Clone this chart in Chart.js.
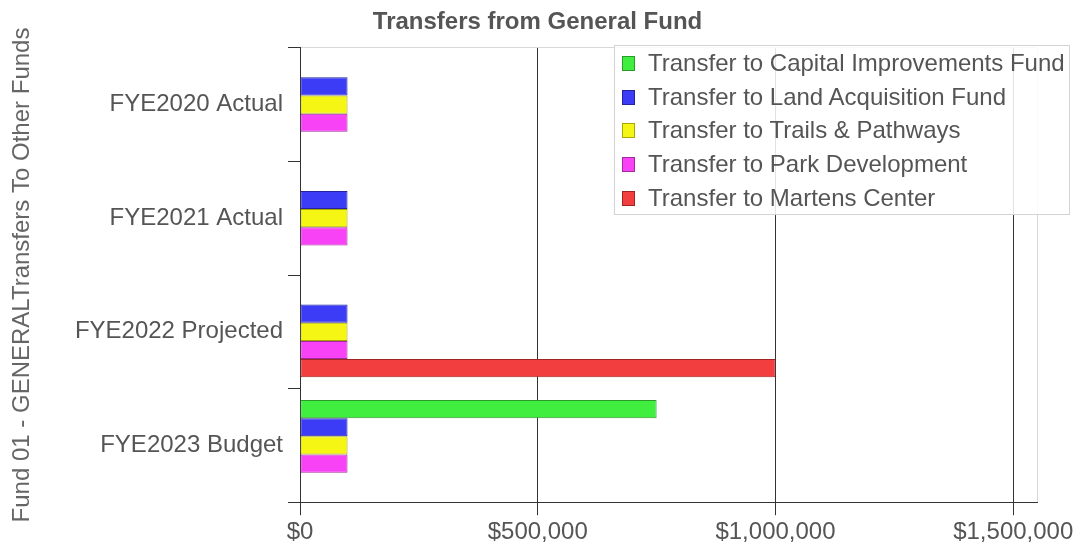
<!DOCTYPE html>
<html>
<head>
<meta charset="utf-8">
<title>Transfers from General Fund</title>
<script src="https://cdn.jsdelivr.net/npm/chart.js@4.4.1/dist/chart.umd.min.js"></script>
<style>
  body { margin: 0; background: #fff; }
  #wrap { position: relative; width: 1075px; height: 550px; }
  #legende {
    position: absolute; left: 614px; top: 45px; width: 456px; height: 170px;
    background: rgba(255,255,255,0.86); border: 1px solid #d4d4d4;
    font-family: "Liberation Sans", Arial, sans-serif; font-size: 24px; color: #555;
    box-sizing: border-box; padding: 0 0 0 7px;
  }
  #legende div { height: 33.7px; line-height: 33.7px; white-space: nowrap; }
  #legende span.doboz {
    display: inline-block; width: 11px; height: 13px; margin-right: 13px;
    vertical-align: 0px; border: 1px solid;
  }
</style>
</head>
<body>
<div id="wrap">
  <canvas id="atutalasok" width="1075" height="550"></canvas>
  <div id="legende"></div>
</div>
<script>
const evek = ["FYE2020 Actual", "FYE2021 Actual", "FYE2022 Projected", "FYE2023 Budget"];

const capitalImprovements = [0, 0, 0, 750000];
const landAcquisition = [100000, 100000, 100000, 100000];
const trailsPathways = [100000, 100000, 100000, 100000];
const parkDevelopment = [100000, 100000, 100000, 100000];
const martensCenter = [0, 0, 1000000, 0];

const xTicks = [0, 500000, 1000000, 1500000];
const xMax = 1550000;

const sorozatok = [
  { label: "Transfer to Capital Improvements Fund", data: capitalImprovements, szin: "#40ee40", keret: "#2a9a2a" },
  { label: "Transfer to Land Acquisition Fund", data: landAcquisition, szin: "#3c3cf6", keret: "#23239a" },
  { label: "Transfer to Trails & Pathways", data: trailsPathways, szin: "#f6f614", keret: "#a8a800" },
  { label: "Transfer to Park Development", data: parkDevelopment, szin: "#f842f6", keret: "#a02a9e" },
  { label: "Transfer to Martens Center", data: martensCenter, szin: "#f23e3e", keret: "#a02424" }
];

Chart.defaults.font.family = '"Liberation Sans", Arial, sans-serif';

const penz = v => "$" + Number(v).toLocaleString("en-US");

new Chart(document.getElementById("atutalasok"), {
  type: "bar",
  data: {
    labels: evek,
    datasets: sorozatok.map(s => ({
      label: s.label,
      data: s.data,
      backgroundColor: s.szin,
      borderColor: s.keret,
      borderWidth: 1,
      borderSkipped: false,
      categoryPercentage: 0.8,
      barPercentage: 1.0
    }))
  },
  options: {
    indexAxis: "y",
    responsive: false,
    animation: false,
    devicePixelRatio: 1,
    layout: { padding: { left: 0, right: 0, top: 0, bottom: 0 } },
    plugins: {
      legend: { display: false },
      tooltip: { enabled: false },
      title: {
        display: true,
        text: "Transfers from General Fund",
        color: "#555",
        font: { size: 24, weight: "bold" },
        padding: { top: 8, bottom: 11 }
      }
    },
    scales: {
      x: {
        min: 0,
        max: xMax,
        afterBuildTicks: axis => {
          axis.ticks = xTicks.concat([xMax]).map(v => ({ value: v }));
        },
        border: { display: true, color: "#333", width: 1 },
        grid: {
          color: c => c.tick && c.tick.value === xMax ? "#d8d8d8" : "#333",
          tickColor: c => c.tick && c.tick.value === xMax ? "rgba(0,0,0,0)" : "#333",
          tickLength: 13
        },
        ticks: {
          color: "#555",
          font: { size: 24 },
          padding: 3,
          maxRotation: 0,
          callback: v => (v === xMax ? "" : penz(v))
        }
      },
      y: {
        border: { display: true, color: "#333", width: 1 },
        grid: {
          color: c => (c.index === 0 ? "#d8d8d8" : "rgba(0,0,0,0)"),
          tickColor: "#333",
          tickLength: 12
        },
        ticks: { color: "#555", font: { size: 24 }, padding: 5 },
        title: {
          display: true,
          text: "Fund 01 - GENERALTransfers To Other Funds",
          color: "#666",
          font: { size: 24 },
          padding: { top: 8, bottom: 33 }
        },
        afterFit: s => { s.width = 300; }
      },
      // ures jobb oldali sav, hogy a cim a teljes szelessegre kozepre keruljon
      jobb: {
        type: "category",
        position: "right",
        display: true,
        grid: { display: false },
        border: { display: false },
        ticks: { display: false },
        afterFit: s => { s.width = 38; }
      }
    }
  }
});

// jelmagyarazat a diagram belsejeben
const legende = document.getElementById("legende");
sorozatok.forEach(s => {
  const sor = document.createElement("div");
  const doboz = document.createElement("span");
  doboz.className = "doboz";
  doboz.style.background = s.szin;
  doboz.style.borderColor = s.keret;
  sor.appendChild(doboz);
  sor.appendChild(document.createTextNode(s.label));
  legende.appendChild(sor);
});
</script>
</body>
</html>
